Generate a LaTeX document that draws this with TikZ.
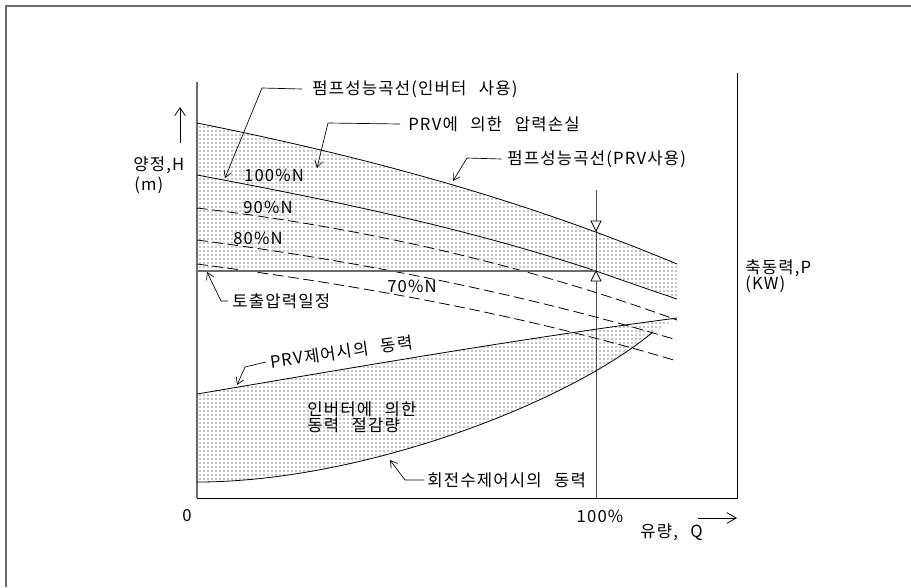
\documentclass[tikz,border=0pt]{standalone}
\usepackage{fontspec}
\setmainfont{Noto Sans CJK KR}[LetterSpace=7]
\usetikzlibrary{arrows.meta,patterns.meta}
\definecolor{axgray}{gray}{0.42}
\newcommand{\wsp}{\hspace{0.75em}}

\begin{document}
\begin{tikzpicture}[x=0.75pt,y=-0.75pt,
  lbl/.style={font=\fontsize{12.5}{14}\selectfont, inner sep=0pt},
  curve/.style={line width=0.6pt},
  dashline/.style={line width=0.6pt, dash pattern=on 8pt off 3.5pt},
  leader/.style={line width=0.5pt, -{Straight Barb[length=5pt,width=6pt]}},
  dotfill/.style={pattern={Dots[distance=3pt,radius=0.5pt]}, pattern color=black},
  tri/.style={draw, fill=white, line width=0.6pt}
]
\useasboundingbox (0,0) rectangle (911,587);

% outer frame (left and top)
\coordinate (fTL) at (6,6);
\coordinate (fTR) at (911,6);
\coordinate (fBL) at (6,587);
\draw[axgray, line width=0.8pt] (fBL) -- (fTL) -- (fTR);

% shaded regions
\fill[dotfill] (197,123) .. controls (357,155) and (517,197) .. (677,264)
  -- (677,299) .. controls (650,290) and (623,280.5) .. (596,271) -- (197,271) -- cycle;
\fill[dotfill] (197,394) .. controls (357,367) and (517,339) .. (677,318)
  -- (653,332) .. controls (565,405) and (360,482) .. (197,482) -- cycle;

% axes
\coordinate (O) at (197,498);
\coordinate (Htop) at (197,82);
\coordinate (Qend) at (737,498);
\coordinate (Ptop) at (737,73);
\coordinate (V100) at (596,498);
\coordinate (V100top) at (596,190);
\draw[axgray, line width=0.8pt] (Htop) -- (O);
\draw[line width=0.7pt] (O) -- (Qend) -- (Ptop);
\draw[axgray!70!black, line width=0.7pt] (V100top) -- (V100);

% pump curves
\draw[curve] (197,123) .. controls (357,155) and (517,197) .. (677,264);
\draw[curve] (197,175) .. controls (330,200) and (463,227) .. (596,271)
  .. controls (623,280.5) and (650,290) .. (677,299);
\draw[dashline] (197,208) .. controls (357,227) and (517,262) .. (677,320);
\draw[dashline] (197,240) .. controls (357,261) and (517,292) .. (677,340);
\draw[dashline] (197,264) .. controls (357,285) and (517,313) .. (677,361);

% constant discharge pressure line
\coordinate (hL) at (197,271);
\coordinate (hR) at (596,271);
\draw[axgray, line width=0.8pt] (hL) -- (hR);

% power curves
\draw[curve] (197,394) .. controls (357,367) and (517,339) .. (677,318);
\draw[curve] (197,482) .. controls (360,482) and (565,405) .. (653,332);

% triangles at 100%
\draw[tri] (596,271) -- (591,281) -- (601,281) -- cycle;
\draw[tri] (596,231) -- (591,221) -- (601,221) -- cycle;

% axis arrows
\coordinate (hA1) at (180,143);
\coordinate (hA2) at (180,107);
\draw[line width=0.6pt, -{Straight Barb[length=6pt,width=8pt]}] (hA1) -- (hA2);
\coordinate (qA1) at (698,518);
\coordinate (qA2) at (737,518);
\draw[line width=0.6pt, -{Straight Barb[length=7pt,width=8pt]}] (qA1) -- (qA2);

% labels
\node[lbl, anchor=west] (t1) at (312,89) {펌프성능곡선(인버터\wsp 사용)};
\node[lbl, anchor=west] (t2) at (408,124) {PRV에\wsp 의한\wsp 압력손실};
\node[lbl, anchor=west] (t3) at (507,159) {펌프성능곡선(PRV사용)};
\node[lbl] (n100) at (274,175) {100\%N};
\node[lbl] (n90) at (268,207) {90\%N};
\node[lbl] (n80) at (258,238) {80\%N};
\node[lbl] (n70) at (412,286) {70\%N};
\node[lbl, anchor=west] (t4) at (232,301) {토출압력일정};
\node[lbl, anchor=west, rotate=8] (t5) at (270,362) {PRV제어시의\wsp 동력};
\node[lbl, anchor=west] (s1) at (307,409) {인버터에\wsp 의한};
\node[lbl, anchor=west] (s2) at (307,425) {동력\wsp 절감량};
\node[lbl, anchor=west] (t6) at (427,480) {회전수제어시의\wsp 동력};
\node[lbl, anchor=west] (yH) at (133,165) {양정,H};
\node[lbl, anchor=west] (yHu) at (134,185) {(m)};
\node[lbl, anchor=west] (yP) at (745,268) {축동력,P};
\node[lbl, anchor=west] (yPu) at (745,284) {(KW)};
\node[lbl] (x0) at (187,516) {0};
\node[lbl] (x100) at (600,516) {100\%};
\node[lbl, anchor=west] (xQ) at (640,532) {유량,\wsp Q};

% leaders
\coordinate (k1) at (262,88);   \coordinate (a1) at (225,178);
\coordinate (k2) at (328,123);  \coordinate (a2) at (317,168);
\coordinate (k3) at (467,158);  \coordinate (a3) at (453,181);
\coordinate (k4) at (221,301);  \coordinate (a4) at (207,272);
\coordinate (k5) at (245,367);  \coordinate (a5) at (237,385);
\coordinate (k6) at (405,480);  \coordinate (a6) at (390,460);
\draw[leader] ([xshift=-7.5pt]t1.west) -- (k1) -- (a1);
\draw[leader] ([xshift=-6pt]t2.west) -- (k2) -- (a2);
\draw[leader] ([xshift=-4pt]t3.west) -- (k3) -- (a3);
\draw[leader] ([xshift=-3pt]t4.west) -- (k4) -- (a4);
\draw[leader] ([xshift=-3pt]t5.west) -- (k5) -- (a5);
\draw[leader] ([xshift=-2pt]t6.west) -- (k6) -- (a6);
\end{tikzpicture}
\end{document}
